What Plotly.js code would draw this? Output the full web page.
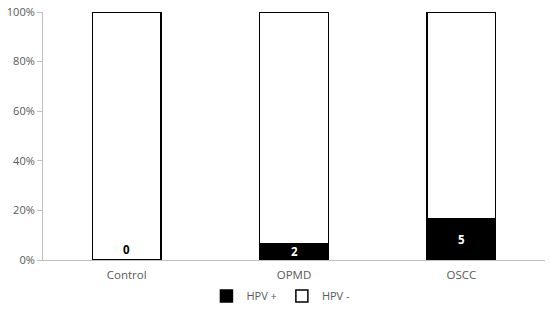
<!DOCTYPE html>
<html>
<head>
<meta charset="utf-8">
<script src="https://cdn.plot.ly/plotly-3.0.1.min.js"></script>
<style>
  html, body { margin: 0; padding: 0; background: #fff; }
  #chart { width: 550px; height: 317px; }
</style>
</head>
<body>
<div id="chart"></div>
<script>
// ===================== DATA =====================
const groups = ['Control', 'OPMD', 'OSCC'];
const hpvPos = [0, 2, 5];      // HPV + counts (labelled on bars)
const hpvNeg = [30, 28, 25];   // HPV - counts
const tickVals = [0, 20, 40, 60, 80, 100];

// ===================== TRACES =====================
const posTrace = {
    x: groups,
    y: hpvPos,
    type: 'bar',
    name: 'HPV +',
    width: 0.41,
    marker: { color: '#000000', line: { color: '#000000', width: 1.5 } },
    hoverinfo: 'none'
};

const negTrace = {
    x: groups,
    y: hpvNeg,
    type: 'bar',
    name: 'HPV -',
    width: 0.41,
    marker: { color: '#ffffff', line: { color: '#000000', width: 1.5 } },
    hoverinfo: 'none'
};

// Count labels centred in the HPV + segment (0 sits on the baseline)
const annotations = groups.map((g, i) => {
    const total = hpvPos[i] + hpvNeg[i];
    const pct = 100 * hpvPos[i] / total;
    return {
        x: g,
        y: pct > 0 ? pct / 2 : 0,
        yanchor: pct > 0 ? 'middle' : 'bottom',
        yshift: pct > 0 ? 0 : 1,
        text: '<b>' + hpvPos[i] + '</b>',
        showarrow: false,
        font: { family: 'Open Sans, sans-serif', size: 11.5, color: pct > 0 ? '#ffffff' : '#000000' }
    };
});

// ===================== LAYOUT =====================
const layout = {
    width: 550,
    height: 317,
    barmode: 'stack',
    barnorm: 'percent',
    margin: { l: 43, r: 5, t: 12, b: 57 },
    paper_bgcolor: '#ffffff',
    plot_bgcolor: '#ffffff',
    font: { family: 'Open Sans, sans-serif', size: 11, color: '#595959' },
    xaxis: {
        showline: true,
        linecolor: '#bfbfbf',
        linewidth: 1,
        ticks: '',
        ticklabelstandoff: 4,
        tickfont: { size: 11.5, color: '#595959' }
    },
    yaxis: {
        range: [0, 100],
        tickvals: tickVals,
        ticktext: tickVals.map(v => v + '%'),
        showgrid: false,
        zeroline: false,
        showline: true,
        linecolor: '#bfbfbf',
        linewidth: 1,
        ticks: 'outside',
        ticklen: 5,
        tickcolor: '#bfbfbf',
        tickfont: { size: 11, color: '#595959' }
    },
    showlegend: true,
    legend: {
        orientation: 'h',
        traceorder: 'normal',
        x: 0.474,
        xanchor: 'center',
        y: -0.145,
        yanchor: 'middle',
        font: { size: 11, color: '#595959' },
        itemwidth: 30
    },
    annotations: annotations
};

Plotly.newPlot('chart', [posTrace, negTrace], layout, { displayModeBar: false, staticPlot: true });
</script>
</body>
</html>
